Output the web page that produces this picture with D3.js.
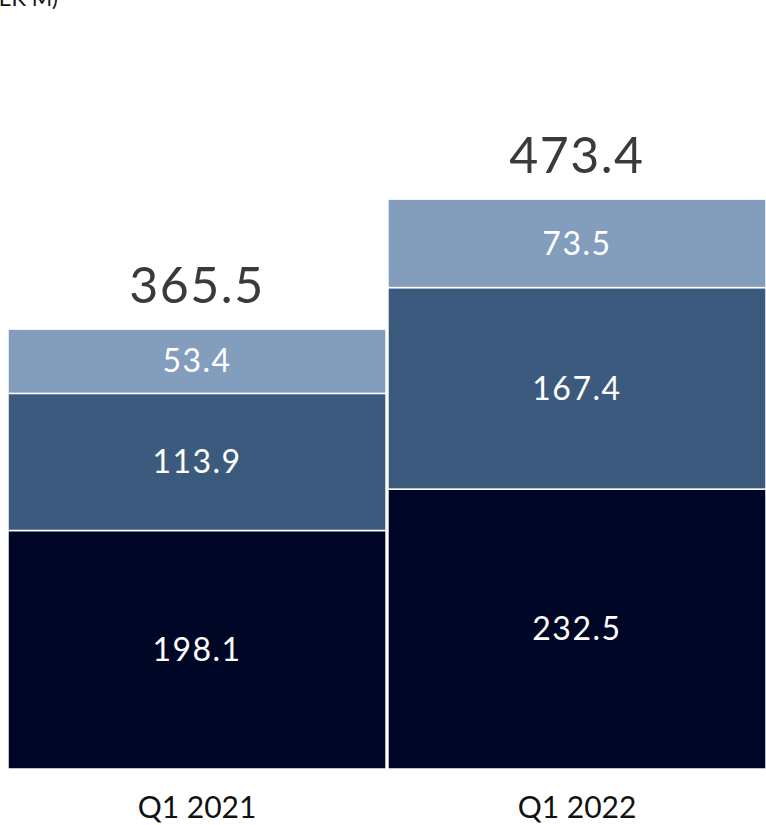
<!DOCTYPE html>
<html>
<head>
<meta charset="utf-8">
<script src="https://cdn.jsdelivr.net/npm/d3@7"></script>
<style>
  html, body { margin: 0; padding: 0; background: #fff; }
  svg { display: block; font-family: "Lato", "Noto Sans", sans-serif; }
</style>
</head>
<body>
<svg id="chart" width="766" height="825"></svg>
<script>
// Quarterly figures, SEK M, stacked by segment (bottom to top)
const categories = ["Q1 2021", "Q1 2022"];
const segmentKeys = ["base", "middle", "top"];
const baseValues = [198.1, 232.5];
const middleValues = [113.9, 167.4];
const topValues = [53.4, 73.5];
const totals = [365.5, 473.4];
const unitLabel = "(SEK M)";

const colors = { base: "#000626", middle: "#3C5A7D", top: "#839EBD" };

const rows = categories.map((c, i) => ({
  category: c,
  base: baseValues[i],
  middle: middleValues[i],
  top: topValues[i],
  total: totals[i]
}));

const svg = d3.select("#chart");
const baseline = 769;

const x = d3.scaleBand()
  .domain(categories)
  .range([8, 766])
  .paddingInner(0.005)
  .paddingOuter(0);

const y = d3.scaleLinear()
  .domain([0, 365.5])
  .range([baseline, 329]);

const stack = d3.stack().keys(segmentKeys)(rows);

// Stacked segments
const layers = svg.append("g").selectAll("g")
  .data(stack)
  .join("g")
  .attr("fill", d => colors[d.key]);

layers.selectAll("rect")
  .data(d => d.map(p => ({ p, key: d.key })))
  .join("rect")
  .attr("x", d => x(d.p.data.category))
  .attr("width", x.bandwidth())
  .attr("y", d => y(d.p[1]))
  .attr("height", d => y(d.p[0]) - y(d.p[1]))
  .attr("stroke", "#ffffff")
  .attr("stroke-width", 1.5);

// Segment value labels
layers.selectAll("text")
  .data(d => d.map(p => ({ p, key: d.key })))
  .join("text")
  .attr("x", d => x(d.p.data.category) + x.bandwidth() / 2)
  .attr("y", d => (y(d.p[0]) + y(d.p[1])) / 2)
  .attr("dy", "0.35em")
  .attr("text-anchor", "middle")
  .attr("fill", "#ffffff")
  .attr("font-size", 32)
  .attr("letter-spacing", 1.5)
  .text(d => (d.p[1] - d.p[0]).toFixed(1));

// Totals above bars
svg.append("g").selectAll("text")
  .data(rows)
  .join("text")
  .attr("x", d => x(d.category) + x.bandwidth() / 2)
  .attr("y", d => y(d.total) - 26)
  .attr("text-anchor", "middle")
  .attr("fill", "#3a3a3a")
  .attr("font-size", 50)
  .attr("letter-spacing", 1.5)
  .text(d => d.total.toFixed(1));

// Category axis
const xAxis = svg.append("g")
  .attr("transform", `translate(0,${baseline})`)
  .call(d3.axisBottom(x).tickSize(0).tickPadding(28));
xAxis.select(".domain").remove();
xAxis.selectAll("text")
  .attr("font-size", 30)
  .attr("fill", "#111111")
  .attr("font-family", "Lato, 'Noto Sans', sans-serif");

// Unit label, sitting against the top-left corner
svg.append("text")
  .attr("x", 58)
  .attr("y", 6)
  .attr("text-anchor", "end")
  .attr("fill", "#111111")
  .attr("font-size", 22)
  .text(unitLabel);
</script>
</body>
</html>
